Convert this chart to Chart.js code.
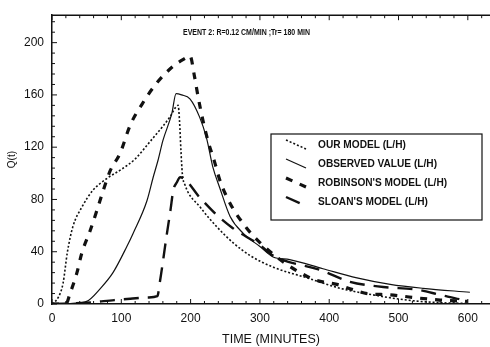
<!DOCTYPE html>
<html>
<head>
<meta charset="utf-8">
<script src="https://cdn.jsdelivr.net/npm/chart.js@4.4.0/dist/chart.umd.min.js"></script>
<style>
  body { margin: 0; background: #fff; }
  canvas { display: block; }
</style>
</head>
<body>
<canvas id="hydroChart" width="490" height="347"></canvas>
<script>
const ourTime = [0, 9, 16, 22, 30, 43, 59, 79, 100, 120, 141, 160, 170, 182, 184, 186, 188, 192, 214, 238, 261, 286, 320, 368, 416, 463, 512, 560, 600];
const ourQ = [0, 5, 16, 39, 59, 74, 87, 96, 103, 111, 124, 136, 143, 152, 140, 118, 100, 91, 74, 59, 47, 37, 28, 20, 12, 7, 3, 1, 0.5];

const obsTime = [0, 30, 50, 70, 88, 108, 117, 137, 146, 153, 160, 173, 179, 187, 199, 213, 223, 232, 242, 257, 276, 300, 319, 343, 391, 440, 488, 535, 603];
const obsQ = [0, 0.5, 2, 12, 24, 44, 54, 79, 97, 110, 125, 146, 161, 160, 157, 143, 127, 105, 89, 67, 54, 44, 36, 34, 27, 20, 15, 12, 9];

const robTime = [0, 20, 26, 36, 43, 55, 65, 74, 84, 98, 113, 130, 151, 175, 192, 199, 206, 211, 218, 225, 235, 242, 257, 281, 300, 329, 358, 382, 411, 434, 455, 488, 521, 560, 600];
const robQ = [0, 0, 8, 24, 39, 56, 72, 87, 102, 115, 137, 153, 169, 182, 188, 190, 173, 158, 140, 125, 108, 95, 77, 58, 47, 34, 24, 18, 15, 11, 8, 7, 5, 3, 2];

const sloanTime = [0, 50, 90, 113, 139, 152, 156, 161, 165, 171, 175, 180, 185, 214, 238, 261, 300, 319, 387, 430, 478, 527, 560, 593, 600];
const sloanQ = [0, 1, 3, 4, 5, 6, 18, 36, 51, 72, 87, 93, 97, 81, 68, 58, 45, 37, 26, 17, 13, 11, 7, 3, 2];

const xTicks = [0, 100, 200, 300, 400, 500, 600];
const yTicks = [0, 40, 80, 120, 160, 200];
const seriesNames = ["OUR MODEL (L/H)", "OBSERVED VALUE (L/H)", "ROBINSON'S MODEL (L/H)", "SLOAN'S MODEL (L/H)"];
const chartTitle = 'EVENT 2: R=0.12 CM/MIN ;Tr= 180 MIN';

const toPoints = (xs, ys) => xs.map((x, i) => ({ x: x, y: ys[i] }));

const INK = '#111';
const FONT = '"Liberation Sans", Arial, sans-serif';

// inward ticks, top frame line, heading and boxed legend
const framePlugin = {
  id: 'frame',
  afterDraw(chart) {
    const ctx = chart.ctx;
    const a = chart.chartArea;
    const xs = chart.scales.x;
    const ys = chart.scales.y;
    ctx.save();
    ctx.strokeStyle = INK;
    ctx.lineWidth = 1.5;
    ctx.beginPath();
    ctx.moveTo(a.left, a.top);
    ctx.lineTo(a.right, a.top);
    ctx.stroke();

    ctx.lineWidth = 1;
    ctx.beginPath();
    for (let v = 0; v <= xs.max; v += 20) {
      const px = xs.getPixelForValue(v);
      const len = v % 100 === 0 ? 5 : 3;
      ctx.moveTo(px, a.bottom);
      ctx.lineTo(px, a.bottom - len);
      ctx.moveTo(px, a.top);
      ctx.lineTo(px, a.top + len);
    }
    for (let v = 0; v <= ys.max; v += 8) {
      const py = ys.getPixelForValue(v);
      const len = v % 40 === 0 ? 5 : 3;
      ctx.moveTo(a.left, py);
      ctx.lineTo(a.left + len, py);
    }
    ctx.stroke();

    // heading, squeezed like the scan
    ctx.fillStyle = INK;
    ctx.font = 'bold 8.5px ' + FONT;
    ctx.textBaseline = 'middle';
    ctx.textAlign = 'left';
    let w = ctx.measureText(chartTitle).width;
    ctx.save();
    ctx.translate(183, 33);
    ctx.scale(127 / w, 1);
    ctx.fillText(chartTitle, 0, 0);
    ctx.restore();

    // legend box
    const box = { left: 271, top: 134, right: 482, bottom: 220 };
    ctx.lineWidth = 1.2;
    ctx.strokeRect(box.left, box.top, box.right - box.left, box.bottom - box.top);
    const rows = [145, 164, 183, 202];
    ctx.font = 'bold 10px ' + FONT;
    const sx = 119 / ctx.measureText(seriesNames[1]).width;
    chart.data.datasets.forEach((ds, i) => {
      const y = rows[i];
      ctx.save();
      ctx.strokeStyle = ds.borderColor;
      ctx.lineWidth = ds.borderWidth;
      ctx.setLineDash(ds.borderDash || []);
      ctx.beginPath();
      ctx.moveTo(286, y - 5);
      ctx.lineTo(306, y + 4);
      ctx.stroke();
      ctx.restore();
      ctx.save();
      ctx.translate(318, y);
      ctx.scale(sx, 1);
      ctx.fillText(ds.label, 0, 0);
      ctx.restore();
    });
    ctx.restore();
  }
};

const lineBase = {
  pointRadius: 0,
  fill: false,
  cubicInterpolationMode: 'monotone',
  borderColor: INK
};

const hydroChart = new Chart(document.getElementById('hydroChart').getContext('2d'), {
  type: 'line',
  data: {
    datasets: [
      Object.assign({}, lineBase, { label: seriesNames[0], data: toPoints(ourTime, ourQ), borderWidth: 1.6, borderDash: [2, 2] }),
      Object.assign({}, lineBase, { label: seriesNames[1], data: toPoints(obsTime, obsQ), borderWidth: 1.2 }),
      Object.assign({}, lineBase, { label: seriesNames[2], data: toPoints(robTime, robQ), borderWidth: 3.2, borderDash: [7, 8] }),
      Object.assign({}, lineBase, { label: seriesNames[3], data: toPoints(sloanTime, sloanQ), borderWidth: 2.4, borderDash: [15, 9] })
    ]
  },
  options: {
    responsive: false,
    animation: false,
    layout: { padding: { top: 14, left: 0, right: 0, bottom: 0 } },
    plugins: {
      legend: { display: false },
      tooltip: { enabled: false }
    },
    scales: {
      x: {
        type: 'linear',
        min: 0,
        max: 632,
        afterBuildTicks: scale => { scale.ticks = xTicks.map(v => ({ value: v })); },
        afterFit: scale => { scale.height = 43; },
        grid: { display: false, drawTicks: false, tickLength: 0 },
        border: { display: true, color: INK, width: 1.5 },
        ticks: { color: INK, font: { family: FONT, size: 12 }, padding: 7, maxRotation: 0, autoSkip: false },
        title: { display: true, text: 'TIME (MINUTES)', color: INK, font: { family: FONT, size: 12.5 }, padding: { top: 4, bottom: 0 } }
      },
      y: {
        min: 0,
        max: 221,
        afterBuildTicks: scale => { scale.ticks = yTicks.map(v => ({ value: v })); },
        afterFit: scale => { scale.width = 52; },
        grid: { display: false, drawTicks: false, tickLength: 0 },
        border: { display: true, color: INK, width: 1.5 },
        ticks: { color: INK, font: { family: FONT, size: 12 }, padding: 8 },
        title: { display: true, text: 'Q(t)', color: INK, font: { family: FONT, size: 10 }, padding: { top: 6, bottom: 0 } }
      }
    }
  },
  plugins: [framePlugin]
});
</script>
</body>
</html>
